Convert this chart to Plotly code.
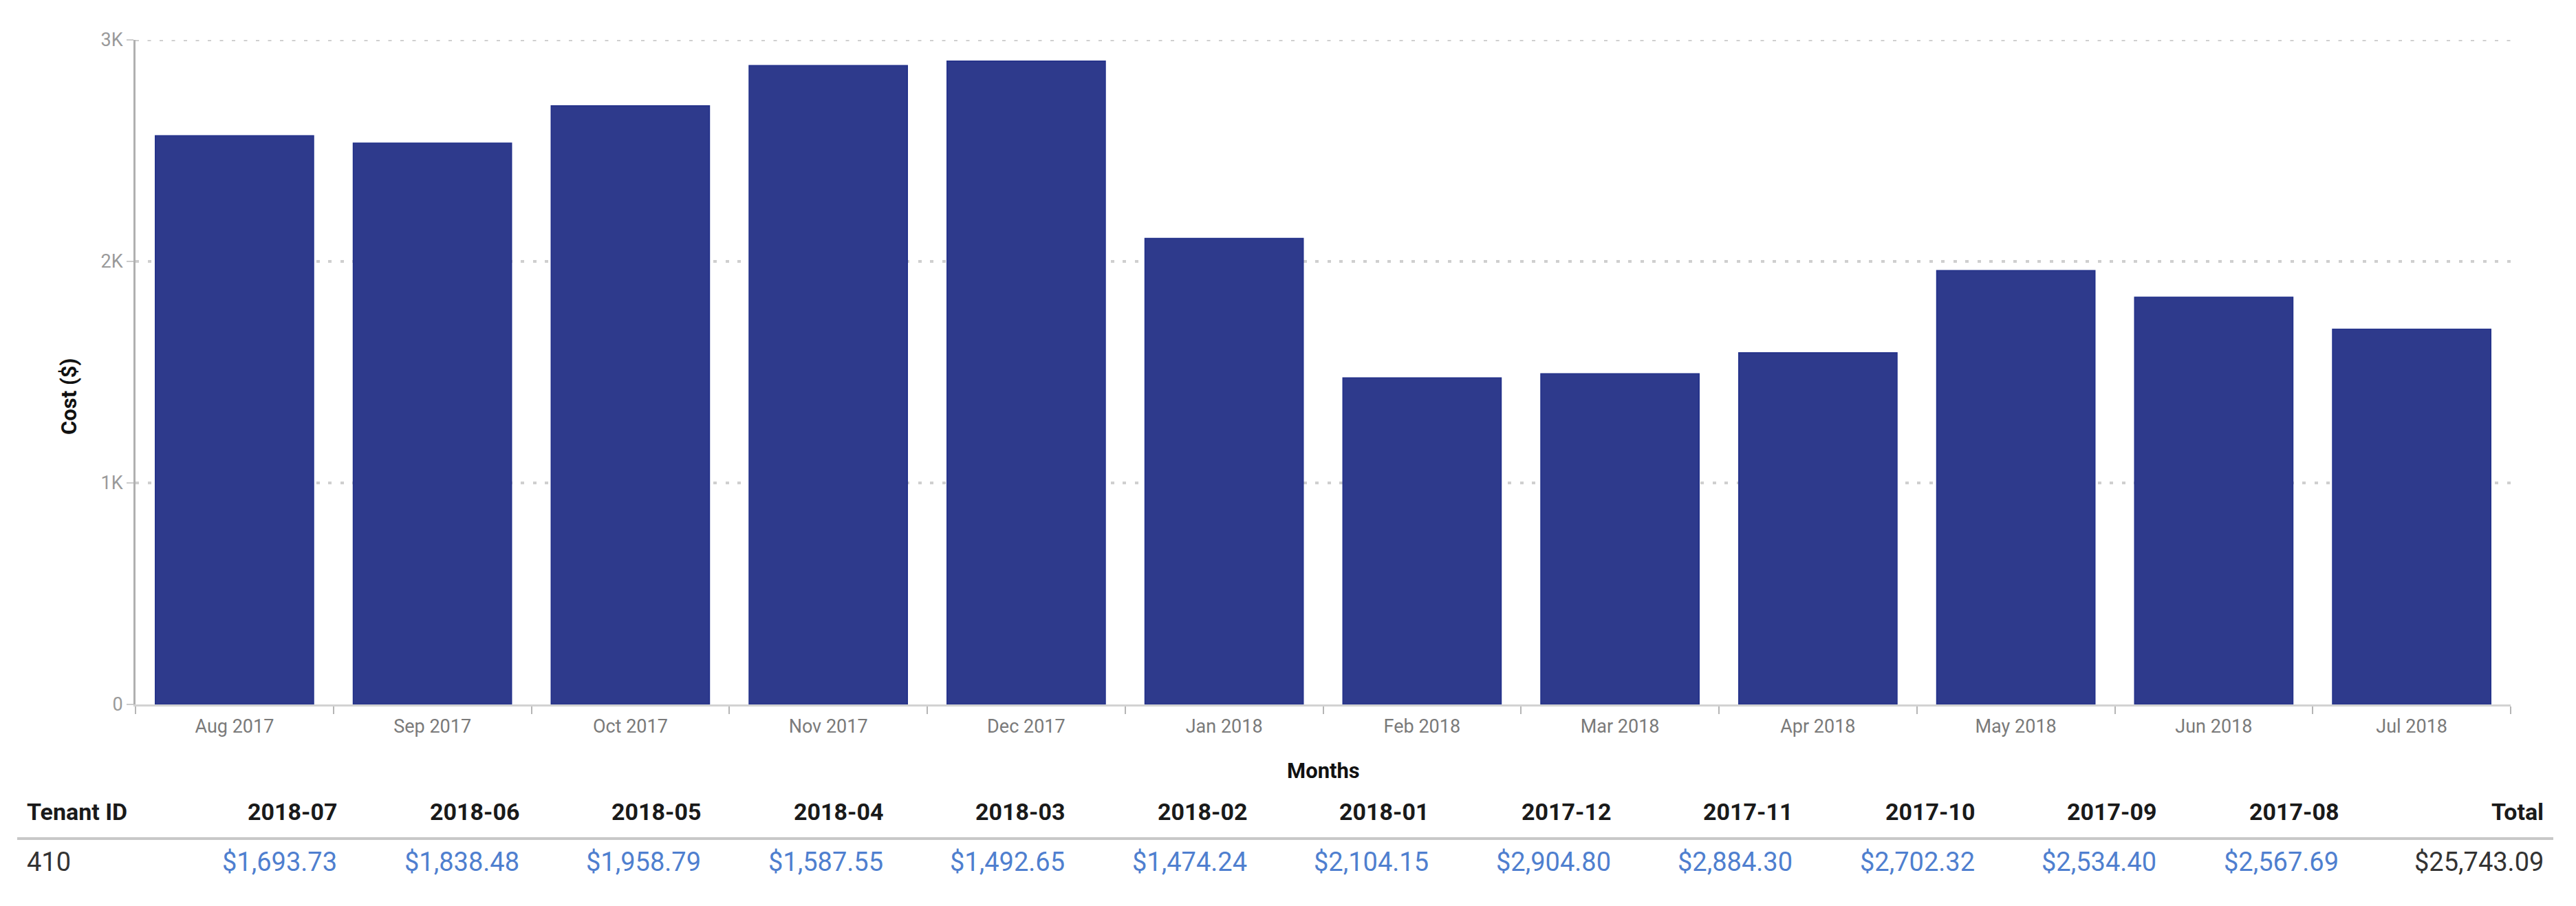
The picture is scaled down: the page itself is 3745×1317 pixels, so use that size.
import plotly.graph_objects as go

# ---- data ----
months = ["Aug 2017", "Sep 2017", "Oct 2017", "Nov 2017", "Dec 2017", "Jan 2018",
          "Feb 2018", "Mar 2018", "Apr 2018", "May 2018", "Jun 2018", "Jul 2018"]
costs = [2567.69, 2534.40, 2702.32, 2884.30, 2904.80, 2104.15,
         1474.24, 1492.65, 1587.55, 1958.79, 1838.48, 1693.73]
y_tickvals = [0, 1000, 2000, 3000]
y_ticktext = ["0", "1K", "2K", "3K"]

table_columns = ["2018-07", "2018-06", "2018-05", "2018-04", "2018-03", "2018-02",
                 "2018-01", "2017-12", "2017-11", "2017-10", "2017-09", "2017-08"]
table_values = [1693.73, 1838.48, 1958.79, 1587.55, 1492.65, 1474.24,
                2104.15, 2904.80, 2884.30, 2702.32, 2534.40, 2567.69]
tenant_id = "410"
total_value = 25743.09

# ---- geometry (pixels) ----
W, H = 3745, 1317
L, R, T, B = 189, 103, 50, 301
PW = W - L - R
PH = H - T - B


def px_x(px):
    return (px - L) / PW


def px_y(py):
    return (H - B - py) / PH


FONT = "Roboto"
GRID_COLOR = "#cfcfcf"
GRID_DASH = "5px,12.5px"

fig = go.Figure()
fig.add_trace(go.Bar(
    x=months, y=costs,
    marker=dict(color="#2e3a8c", line=dict(color="#22308a", width=1.5)),
    hoverinfo="skip",
))

fig.update_layout(
    width=W, height=H,
    margin=dict(l=L, r=R, t=T, b=B),
    paper_bgcolor="white", plot_bgcolor="white",
    bargap=0.2,
    showlegend=False,
    font=dict(family=FONT),
    xaxis=dict(
        range=[-0.5, len(months) - 0.5],
        showline=True, linecolor="#d2d2d2", linewidth=3,
        ticks="outside", tickson="boundaries", ticklen=11, tickwidth=2, tickcolor="#b5b5b5",
        tickfont=dict(family=FONT, size=27, color="#7a7a7a"),
        ticklabelstandoff=6,
        showgrid=False, zeroline=False,
    ),
    yaxis=dict(
        range=[0, 3000],
        tickvals=y_tickvals, ticktext=y_ticktext,
        showline=True, linecolor="#b0b0b0", linewidth=3,
        ticks="outside", ticklen=10, tickwidth=2, tickcolor="#cccccc",
        tickfont=dict(family=FONT, size=27, color="#9a9a9a"),
        showgrid=True, gridcolor=GRID_COLOR, gridwidth=4, griddash=GRID_DASH,
        zeroline=False,
    ),
)

# top gridline (at the range edge plotly omits it)
fig.add_shape(type="line", xref="paper", yref="y", x0=0, x1=1,
              y0=y_tickvals[-1], y1=y_tickvals[-1], layer="below",
              line=dict(color=GRID_COLOR, width=4, dash=GRID_DASH))

ann = []
# axis titles
ann.append(dict(text="<b>Cost ($)</b>", x=px_x(92), y=px_y(569), xref="paper", yref="paper",
                textangle=-90, showarrow=False, xanchor="center", yanchor="middle",
                font=dict(family=FONT, size=31, color="#111111")))
ann.append(dict(text="<b>Months</b>", x=0.5, y=px_y(1112), xref="paper", yref="paper",
                showarrow=False, xanchor="center", yanchor="middle",
                font=dict(family=FONT, size=31, color="#111111")))

# table
HEAD_Y, ROW_Y, SEP_Y = 1172, 1245, 1211
ann.append(dict(text="<b>Tenant ID</b>", x=px_x(29), y=px_y(HEAD_Y), xref="paper", yref="paper",
                showarrow=False, xanchor="left", yanchor="middle",
                font=dict(family=FONT, size=34, color="#1a1a1a")))
ann.append(dict(text=tenant_id, x=px_x(29), y=px_y(ROW_Y), xref="paper", yref="paper",
                showarrow=False, xanchor="left", yanchor="middle",
                font=dict(family=FONT, size=38, color="#333333")))
for k, (col, val) in enumerate(zip(table_columns, table_values)):
    xr = 484 + k * 264.5
    ann.append(dict(text="<b>%s</b>" % col, x=px_x(xr), y=px_y(HEAD_Y), xref="paper", yref="paper",
                    showarrow=False, xanchor="right", yanchor="middle",
                    font=dict(family=FONT, size=34, color="#1a1a1a")))
    ann.append(dict(text="${:,.2f}".format(val), x=px_x(xr), y=px_y(ROW_Y), xref="paper", yref="paper",
                    showarrow=False, xanchor="right", yanchor="middle",
                    font=dict(family=FONT, size=38, color="#4f7fcf")))
ann.append(dict(text="<b>Total</b>", x=px_x(3692), y=px_y(HEAD_Y), xref="paper", yref="paper",
                showarrow=False, xanchor="right", yanchor="middle",
                font=dict(family=FONT, size=34, color="#1a1a1a")))
ann.append(dict(text="${:,.2f}".format(total_value), x=px_x(3692), y=px_y(ROW_Y), xref="paper", yref="paper",
                showarrow=False, xanchor="right", yanchor="middle",
                font=dict(family=FONT, size=38, color="#333333")))
fig.update_layout(annotations=ann)

fig.add_shape(type="line", xref="paper", yref="paper",
              x0=px_x(17), x1=px_x(3704), y0=px_y(SEP_Y), y1=px_y(SEP_Y),
              line=dict(color="#c8c8c8", width=4))

fig.write_html("out.html")
